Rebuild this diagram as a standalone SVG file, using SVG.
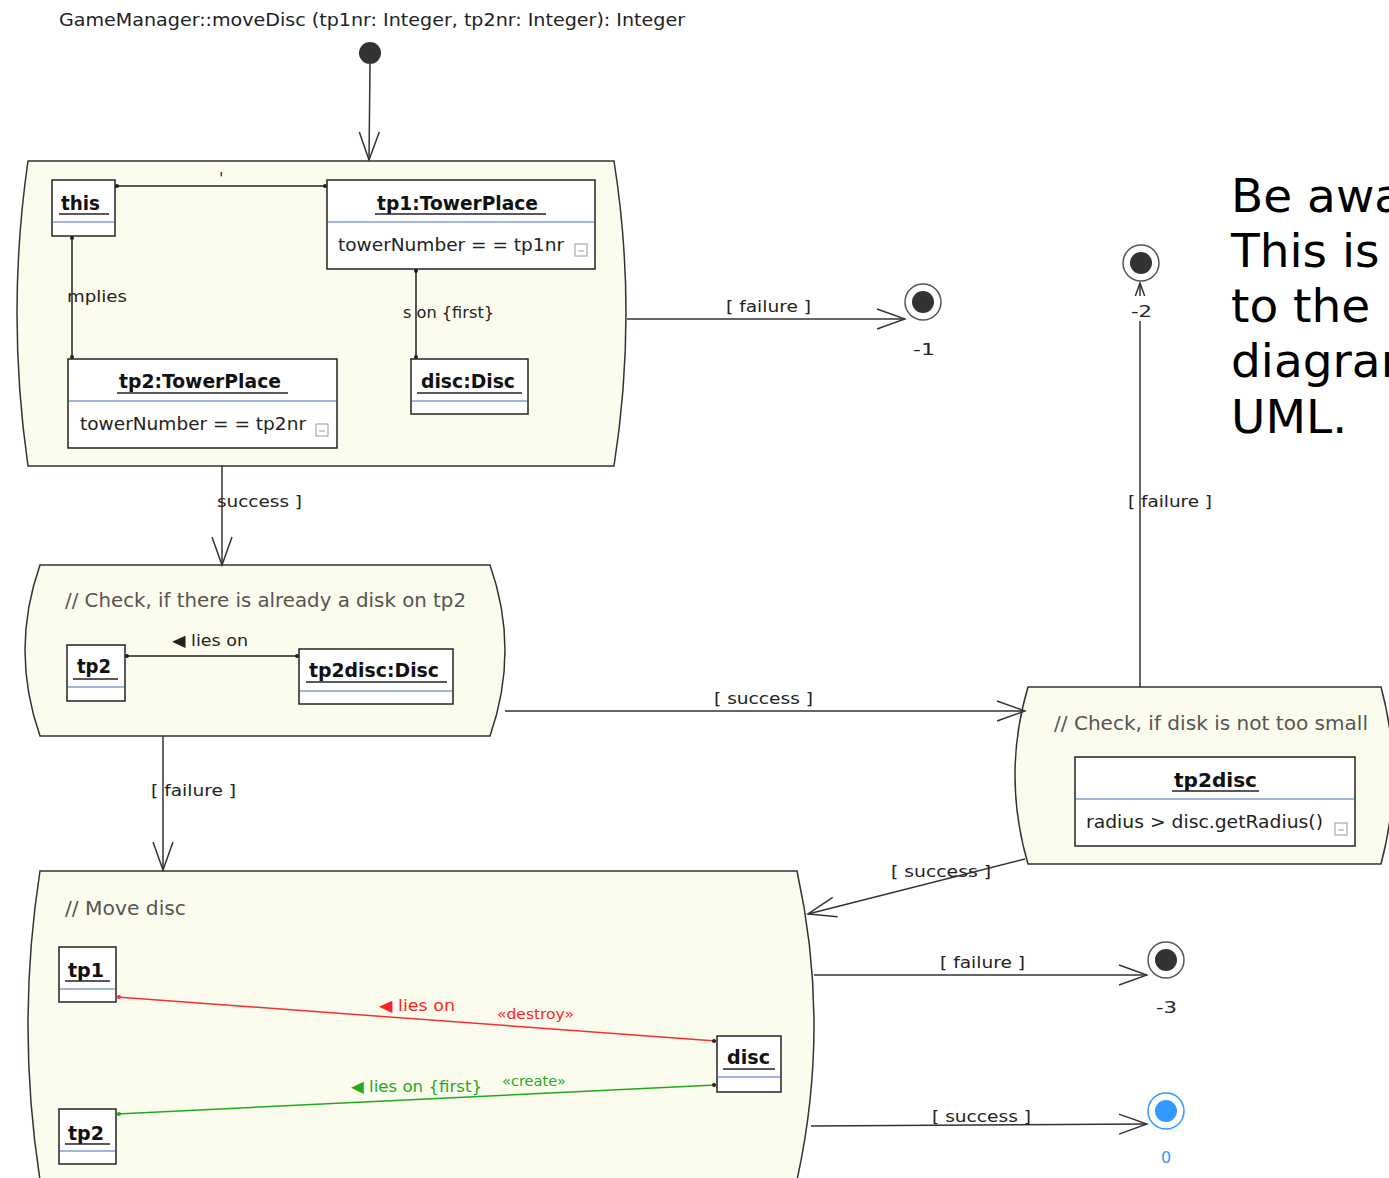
<svg xmlns="http://www.w3.org/2000/svg" width="1389" height="1178" viewBox="0 0 1389 1178">
<style>
.st{fill:#fcfcee;stroke:#333;stroke-width:1.5}
.ob{fill:#fff;stroke:#222;stroke-width:1.5}
.sep{stroke:#7f9ed9;stroke-width:1.5}
.ul{stroke:#222;stroke-width:1.5}
.ln{stroke:#222;stroke-width:1.5;fill:none}
.tr{stroke:#333;stroke-width:1.5;fill:none;marker-end:url(#open)}
.t{font-family:"DejaVu Sans",sans-serif;font-size:16px;fill:#222}
.b{font-family:"DejaVu Sans",sans-serif;font-size:19px;font-weight:bold;fill:#111}
.a{font-family:"DejaVu Sans",sans-serif;font-size:18px;fill:#222}
.cm{font-family:"DejaVu Sans",sans-serif;font-size:19px;fill:#555}
.ic{fill:none;stroke:#999;stroke-width:1}
.dot{fill:#222}
.fo{fill:#fff;stroke:#555;stroke-width:1.5}
.fi{fill:#333}
</style>
<defs>
<marker id="open" markerUnits="userSpaceOnUse" viewBox="-1 -1 31 23" markerWidth="31" markerHeight="23" refX="28" refY="10" orient="auto">
<path d="M0,0 L28,10 L0,20" fill="none" stroke="#333" stroke-width="1.5"/>
</marker>
</defs>
<rect width="1389" height="1178" fill="#fff"/>

<text class="a" x="59" y="26" textLength="626" lengthAdjust="spacingAndGlyphs">GameManager::moveDisc (tp1nr: Integer, tp2nr: Integer): Integer</text>

<g id="start"><circle cx="370" cy="53" r="11" fill="#333"/></g>

<g id="n1">
<path class="st" d="M28,161 L614,161 Q638,313 614,466 L28,466 Q6,313 28,161 Z"/>
<rect class="ob" x="52" y="180" width="63" height="56"/>
<text class="b" x="61" y="210" textLength="39" lengthAdjust="spacingAndGlyphs">this</text>
<line class="ul" x1="59" y1="214" x2="109" y2="214"/>
<line class="sep" x1="53" y1="222" x2="114" y2="222"/>
<rect class="ob" x="327" y="180" width="268" height="89"/>
<text class="b" x="377" y="210" textLength="161" lengthAdjust="spacingAndGlyphs">tp1:TowerPlace</text>
<line class="ul" x1="375" y1="214" x2="546" y2="214"/>
<line class="sep" x1="328" y1="222" x2="594" y2="222"/>
<text class="a" x="338" y="251" textLength="226" lengthAdjust="spacingAndGlyphs">towerNumber = = tp1nr</text>
<rect class="ic" x="575" y="244" width="12" height="12"/><line class="ic" x1="578" y1="251" x2="584" y2="251"/>
<rect class="ob" x="68" y="359" width="269" height="89"/>
<text class="b" x="119" y="388" textLength="162" lengthAdjust="spacingAndGlyphs">tp2:TowerPlace</text>
<line class="ul" x1="117" y1="393" x2="288" y2="393"/>
<line class="sep" x1="69" y1="401" x2="336" y2="401"/>
<text class="a" x="80" y="430" textLength="226" lengthAdjust="spacingAndGlyphs">towerNumber = = tp2nr</text>
<rect class="ic" x="316" y="424" width="12" height="12"/><line class="ic" x1="319" y1="431" x2="325" y2="431"/>
<rect class="ob" x="411" y="359" width="117" height="55"/>
<text class="b" x="421" y="388" textLength="94" lengthAdjust="spacingAndGlyphs">disc:Disc</text>
<line class="ul" x1="417" y1="393" x2="522" y2="393"/>
<line class="sep" x1="412" y1="401" x2="527" y2="401"/>
<line class="ln" x1="115" y1="186" x2="327" y2="186"/>
<circle class="dot" cx="117" cy="186" r="2"/><circle class="dot" cx="325" cy="186" r="2"/>
<text class="t" x="219" y="184" font-size="12">'</text>
<line class="ln" x1="72" y1="236" x2="72" y2="359"/>
<circle class="dot" cx="72" cy="238" r="2"/><circle class="dot" cx="72" cy="357" r="2"/>
<text class="t" x="67" y="302" textLength="60" lengthAdjust="spacingAndGlyphs">mplies</text>
<line class="ln" x1="416" y1="269" x2="416" y2="359"/>
<circle class="dot" cx="416" cy="271" r="2"/><circle class="dot" cx="416" cy="357" r="2"/>
<text class="t" x="403" y="318" textLength="91" lengthAdjust="spacingAndGlyphs">s on {first}</text>
</g>

<g id="n2">
<path class="st" d="M40,565 L490,565 Q520,650 490,736 L40,736 Q10,650 40,565 Z"/>
<text class="cm" x="65" y="607" textLength="401" lengthAdjust="spacingAndGlyphs">// Check, if there is already a disk on tp2</text>
<rect class="ob" x="67" y="645" width="58" height="56"/>
<text class="b" x="77" y="673" textLength="34" lengthAdjust="spacingAndGlyphs">tp2</text>
<line class="ul" x1="73" y1="679" x2="118" y2="679"/>
<line class="sep" x1="68" y1="687" x2="124" y2="687"/>
<rect class="ob" x="299" y="649" width="154" height="55"/>
<text class="b" x="309" y="677" textLength="130" lengthAdjust="spacingAndGlyphs">tp2disc:Disc</text>
<line class="ul" x1="306" y1="682" x2="447" y2="682"/>
<line class="sep" x1="300" y1="691" x2="452" y2="691"/>
<line class="ln" x1="125" y1="656" x2="299" y2="656"/>
<circle class="dot" cx="127" cy="656" r="2"/><circle class="dot" cx="297" cy="656" r="2"/>
<text class="t" x="172" y="646" textLength="76" lengthAdjust="spacingAndGlyphs">◀ lies on</text>
</g>

<g id="n3">
<path class="st" d="M1028,687 L1381,687 Q1405,775 1381,864 L1028,864 Q1002,775 1028,687 Z"/>
<text class="cm" x="1054" y="730" textLength="314" lengthAdjust="spacingAndGlyphs">// Check, if disk is not too small</text>
<rect class="ob" x="1075" y="757" width="280" height="89"/>
<text class="b" x="1174" y="787" textLength="83" lengthAdjust="spacingAndGlyphs">tp2disc</text>
<line class="ul" x1="1172" y1="791" x2="1259" y2="791"/>
<line class="sep" x1="1076" y1="799" x2="1354" y2="799"/>
<text class="a" x="1086" y="828" textLength="237" lengthAdjust="spacingAndGlyphs">radius &gt; disc.getRadius()</text>
<rect class="ic" x="1335" y="823" width="12" height="12"/><line class="ic" x1="1338" y1="830" x2="1344" y2="830"/>
</g>

<g id="n4">
<path class="st" d="M40,871 L797,871 Q831,1025 797,1180 L40,1180 Q16,1025 40,871 Z"/>
<text class="cm" x="65" y="915" textLength="121" lengthAdjust="spacingAndGlyphs">// Move disc</text>
<rect class="ob" x="59" y="947" width="57" height="55"/>
<text class="b" x="68" y="977" textLength="36" lengthAdjust="spacingAndGlyphs">tp1</text>
<line class="ul" x1="65" y1="981" x2="110" y2="981"/>
<line class="sep" x1="60" y1="989" x2="115" y2="989"/>
<rect class="ob" x="59" y="1109" width="57" height="55"/>
<text class="b" x="68" y="1140" textLength="36" lengthAdjust="spacingAndGlyphs">tp2</text>
<line class="ul" x1="65" y1="1144" x2="110" y2="1144"/>
<line class="sep" x1="60" y1="1151" x2="115" y2="1151"/>
<rect class="ob" x="717" y="1036" width="64" height="56"/>
<text class="b" x="727" y="1064" textLength="43" lengthAdjust="spacingAndGlyphs">disc</text>
<line class="ul" x1="723" y1="1069" x2="775" y2="1069"/>
<line class="sep" x1="718" y1="1077" x2="780" y2="1077"/>
<line x1="117" y1="997" x2="716" y2="1041" stroke="#f23030" stroke-width="1.5"/>
<circle cx="119" cy="997" r="2" fill="#f23030"/><circle cx="714" cy="1041" r="2" fill="#222"/>
<text class="t" x="379" y="1011" textLength="76" lengthAdjust="spacingAndGlyphs" style="fill:#f22">◀ lies on</text>
<text class="t" x="497" y="1019" textLength="77" lengthAdjust="spacingAndGlyphs" style="fill:#f22;font-size:14px">«destroy»</text>
<line x1="117" y1="1114" x2="716" y2="1085" stroke="#1faa1f" stroke-width="1.5"/>
<circle cx="119" cy="1114" r="2" fill="#1faa1f"/><circle cx="714" cy="1085" r="2" fill="#222"/>
<text class="t" x="351" y="1092" textLength="131" lengthAdjust="spacingAndGlyphs" style="fill:#1faa1f">◀ lies on {first}</text>
<text class="t" x="502" y="1086" textLength="64" lengthAdjust="spacingAndGlyphs" style="fill:#1faa1f;font-size:14px">«create»</text>
</g>

<g id="connectors">
<line class="tr" x1="370" y1="64" x2="369" y2="160"/>
<line class="tr" x1="627" y1="319" x2="905" y2="319"/>
<text class="t" x="726" y="312" textLength="85" lengthAdjust="spacingAndGlyphs">[ failure  ]</text>
<line class="tr" x1="222" y1="466" x2="222" y2="565"/>
<text class="t" x="217" y="507" textLength="85" lengthAdjust="spacingAndGlyphs">success  ]</text>
<line class="tr" x1="505" y1="711" x2="1025" y2="711"/>
<text class="t" x="714" y="704" textLength="99" lengthAdjust="spacingAndGlyphs">[ success  ]</text>
<line class="tr" x1="163" y1="736" x2="163" y2="870"/>
<text class="t" x="151" y="796" textLength="85" lengthAdjust="spacingAndGlyphs">[ failure  ]</text>
<line class="tr" x1="1140" y1="687" x2="1140" y2="283"/>
<text class="t" x="1128" y="507" textLength="84" lengthAdjust="spacingAndGlyphs">[ failure  ]</text>
<line class="tr" x1="1025" y1="859" x2="808" y2="914"/>
<text class="t" x="891" y="877" textLength="100" lengthAdjust="spacingAndGlyphs">[ success  ]</text>
<line class="tr" x1="814" y1="975" x2="1147" y2="975"/>
<text class="t" x="940" y="968" textLength="85" lengthAdjust="spacingAndGlyphs">[ failure  ]</text>
<line class="tr" x1="811" y1="1126" x2="1147" y2="1124"/>
<text class="t" x="932" y="1122" textLength="99" lengthAdjust="spacingAndGlyphs">[ success  ]</text>
</g>

<g id="f1">
<circle class="fo" cx="923" cy="302" r="18"/><circle class="fi" cx="923" cy="302" r="11"/>
<text class="t" x="913" y="355" textLength="22" lengthAdjust="spacingAndGlyphs">-1</text>
</g>
<g id="f2">
<circle class="fo" cx="1141" cy="263" r="18"/><circle class="fi" cx="1141" cy="263" r="11"/>
<rect x="1126" y="296" width="30" height="25" fill="#fff"/>
<text class="t" x="1131" y="317" textLength="21" lengthAdjust="spacingAndGlyphs">-2</text>
</g>
<g id="f3">
<circle class="fo" cx="1166" cy="960" r="18"/><circle class="fi" cx="1166" cy="960" r="11"/>
<text class="t" x="1156" y="1013" textLength="21" lengthAdjust="spacingAndGlyphs">-3</text>
</g>
<g id="f0">
<circle cx="1166" cy="1111" r="18" fill="#fff" stroke="#3399ff" stroke-width="1.5"/><circle cx="1166" cy="1111" r="11" fill="#3399ff"/>
<text class="t" x="1161" y="1163" style="fill:#3399ff">0</text>
</g>

<g id="note" font-family="DejaVu Sans, sans-serif" font-size="47" fill="#000">
<text x="1231" y="212">Be aware</text>
<text x="1231" y="267">This is</text>
<text x="1231" y="322">to the</text>
<text x="1231" y="377">diagram</text>
<text x="1231" y="433">UML.</text>
</g>
</svg>
